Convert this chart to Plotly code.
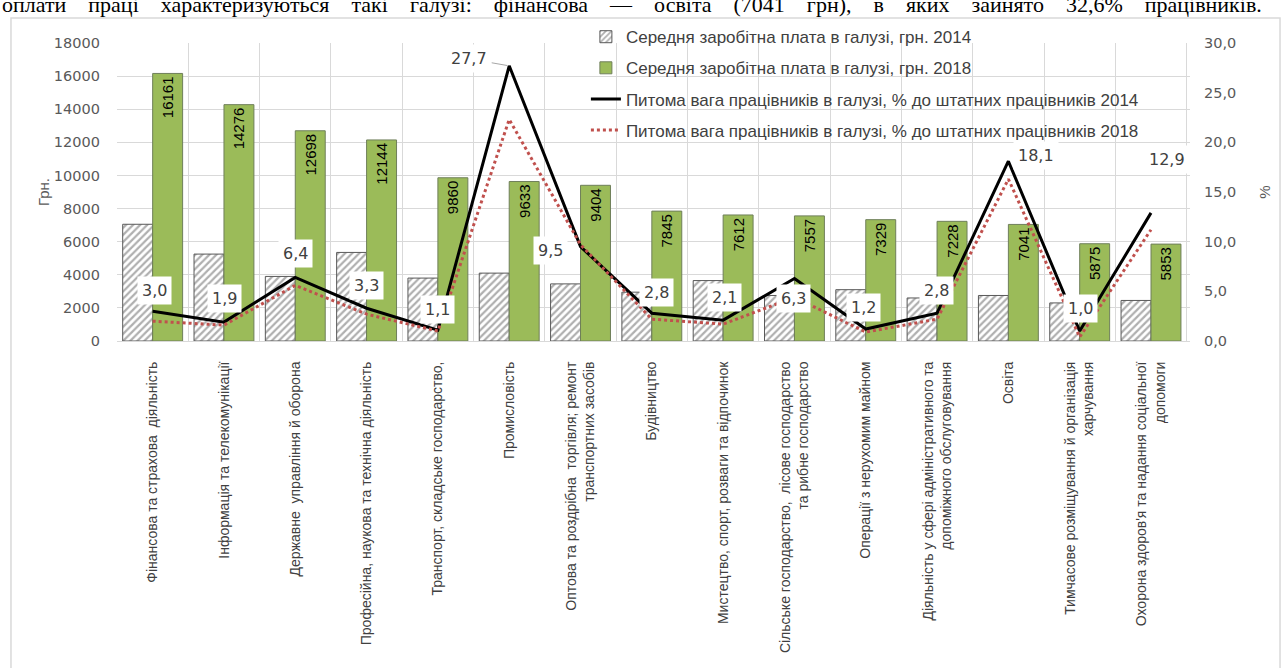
import plotly.graph_objects as go

categories = [
    "Фінансова та страхова  діяльність",
    "Інформація та телекомунікації",
    "Державне  управління й оборона",
    "Професійна, наукова та технічна діяльність",
    "Транспорт, складське господарство,",
    "Промисловість",
    "Оптова та роздрібна  торгівля; ремонт<br>транспортних засобів",
    "Будівництво",
    "Мистецтво, спорт, розваги та відпочинок",
    "Сільське господарство,  лісове господарство<br>та рибне господарство",
    "Операції з нерухомим майном",
    "Діяльність у сфері адміністративного та<br>допоміжного обслуговування",
    "Освіта",
    "Тимчасове розміщування й організація<br>харчування",
    "Охорона здоров'я та надання соціальної<br>допомоги",
]
salary_2014 = [7050, 5250, 3900, 5350, 3800, 4100, 3450, 2950, 3650, 2750, 3100, 2600, 2750, 2300, 2450]
salary_2018 = [16161, 14276, 12698, 12144, 9860, 9633, 9404, 7845, 7612, 7557, 7329, 7228, 7041, 5875, 5853]
share_2014 = [3.0, 1.9, 6.4, 3.3, 1.1, 27.7, 9.5, 2.8, 2.1, 6.3, 1.2, 2.8, 18.1, 1.0, 12.9]
share_2018 = [2.0, 1.6, 5.6, 2.7, 1.0, 22.3, 9.7, 2.2, 1.7, 4.4, 0.9, 2.2, 16.3, 0.4, 11.2]
left_ticks = [0, 2000, 4000, 6000, 8000, 10000, 12000, 14000, 16000, 18000]
right_ticks = [0, 5, 10, 15, 20, 25, 30]
top_text = "оплати праці характеризуються такі галузі: фінансова — освіта (7041 грн), в яких зайнято 32,6% працівників."

# label offsets (pixels) for the 2014 share labels
label_dx = [2, 1, 0, 0, 0, -40, -30, 5, 1, -1, -2, -1, 28, 1, 16]
label_dy = [21, 24, 24, 23, 21, 7, -4, 21, 23, -20, 22, 23, 6, 23, 53]
leader = [False, False, False, False, False, True, False, False, False, False, False, False, False, False, False]

SANS = "Liberation Sans, Arial, sans-serif"
TICKF = "DejaVu Sans, Verdana, sans-serif"

fig = go.Figure()
fig.add_trace(go.Bar(
    x=categories, y=salary_2014, name="Середня заробітна плата в галузі, грн. 2014",
    marker=dict(color="white", line=dict(color="#595959", width=1),
                pattern=dict(shape="/", fgcolor="#606060", bgcolor="white", size=5, solidity=0.45)),
    legendgroup="a", yaxis="y",
))
fig.add_trace(go.Bar(
    x=categories, y=salary_2018, name="Середня заробітна плата в галузі, грн. 2018",
    marker=dict(color="#9bbb59", line=dict(color="#6f7f5a", width=1)),
    text=[str(v) for v in salary_2018], textposition="inside", insidetextanchor="end",
    textangle=-90, textfont=dict(family=SANS, size=15, color="#000000"),
    legendgroup="b", yaxis="y",
))
fig.add_trace(go.Scatter(
    x=categories, y=share_2014, name="Питома вага працівників в галузі, % до штатних працівників 2014",
    mode="lines", line=dict(color="#000000", width=3), legendgroup="c", yaxis="y2",
))
fig.add_trace(go.Scatter(
    x=categories, y=share_2018, name="Питома вага працівників в галузі, % до штатних працівників 2018",
    mode="lines", line=dict(color="#c0504d", width=3, dash="dot"), legendgroup="d", yaxis="y2",
))

annotations = []
for i, (c, v) in enumerate(zip(categories, share_2014)):
    txt = f"{v:.1f}".replace(".", ",")
    if leader[i]:
        annotations.append(dict(
            x=c, y=v, xref="x", yref="y2", text=txt,
            showarrow=True, arrowhead=0, arrowwidth=1, arrowcolor="#a6a6a6",
            ax=label_dx[i], ay=-label_dy[i], standoff=2,
            font=dict(family=TICKF, size=16, color="#404040"),
            bgcolor="white", borderpad=4,
        ))
    else:
        annotations.append(dict(
            x=c, y=v, xref="x", yref="y2", text=txt,
            showarrow=False, xshift=label_dx[i], yshift=label_dy[i],
            font=dict(family=TICKF, size=16, color="#404040"),
            bgcolor="white", borderpad=4,
        ))

spaced = "&nbsp;&nbsp;&nbsp;&nbsp;".join(top_text.split(" "))
annotations.append(dict(
    x=-0.109, y=1.13, xref="paper", yref="paper", xanchor="left", yanchor="middle",
    text=spaced, showarrow=False,
    font=dict(family="Liberation Serif, Times New Roman, serif", size=22, color="#000000"),
))

fig.update_layout(
    width=1285, height=668,
    margin=dict(l=117, r=95, t=43, b=327, autoexpand=False),
    paper_bgcolor="white", plot_bgcolor="white",
    barmode="group", bargap=0.16, bargroupgap=0.0,
    separators=", ",
    showlegend=True,
    legend=dict(x=0.437, y=1.08, xanchor="left", yanchor="top",
                font=dict(family=SANS, size=17, color="#404040"),
                bgcolor="rgba(0,0,0,0)", traceorder="grouped", tracegroupgap=6,
                itemwidth=30),
    xaxis=dict(
        type="category", tickson="boundaries", showgrid=True, gridcolor="#d9d9d9",
        showline=True, linecolor="#d9d9d9", ticks="", tickangle=-90,
        tickfont=dict(family=SANS, size=14, color="#404040"),
        ticklabelstandoff=14,
    ),
    yaxis=dict(
        range=[0, 18000], tickvals=left_ticks, tickformat="d",
        showgrid=True, gridcolor="#d9d9d9", zeroline=False, showline=False,
        tickfont=dict(family=TICKF, size=14.5, color="#595959"),
        title=dict(text="Грн.", font=dict(family=SANS, size=15, color="#595959"), standoff=0),
        ticklabelstandoff=16,
    ),
    yaxis2=dict(
        range=[0, 30], tickvals=right_ticks, tickformat=".1f", overlaying="y", side="right",
        showgrid=False, zeroline=False, showline=False,
        tickfont=dict(family=TICKF, size=14.5, color="#595959"),
        title=dict(text="%", font=dict(family=SANS, size=15, color="#595959"), standoff=24),
        ticklabelstandoff=13,
    ),
    annotations=annotations,
    shapes=[dict(type="rect", xref="paper", yref="paper", x0=-0.0988, x1=1.0839, y0=-1.12, y1=1.084,
                 line=dict(color="#d9d9d9", width=1.5), fillcolor="rgba(0,0,0,0)", layer="below")],
)

fig.write_html("out.html", config={"displayModeBar": False},
               post_script="document.body.style.margin='0px';")
